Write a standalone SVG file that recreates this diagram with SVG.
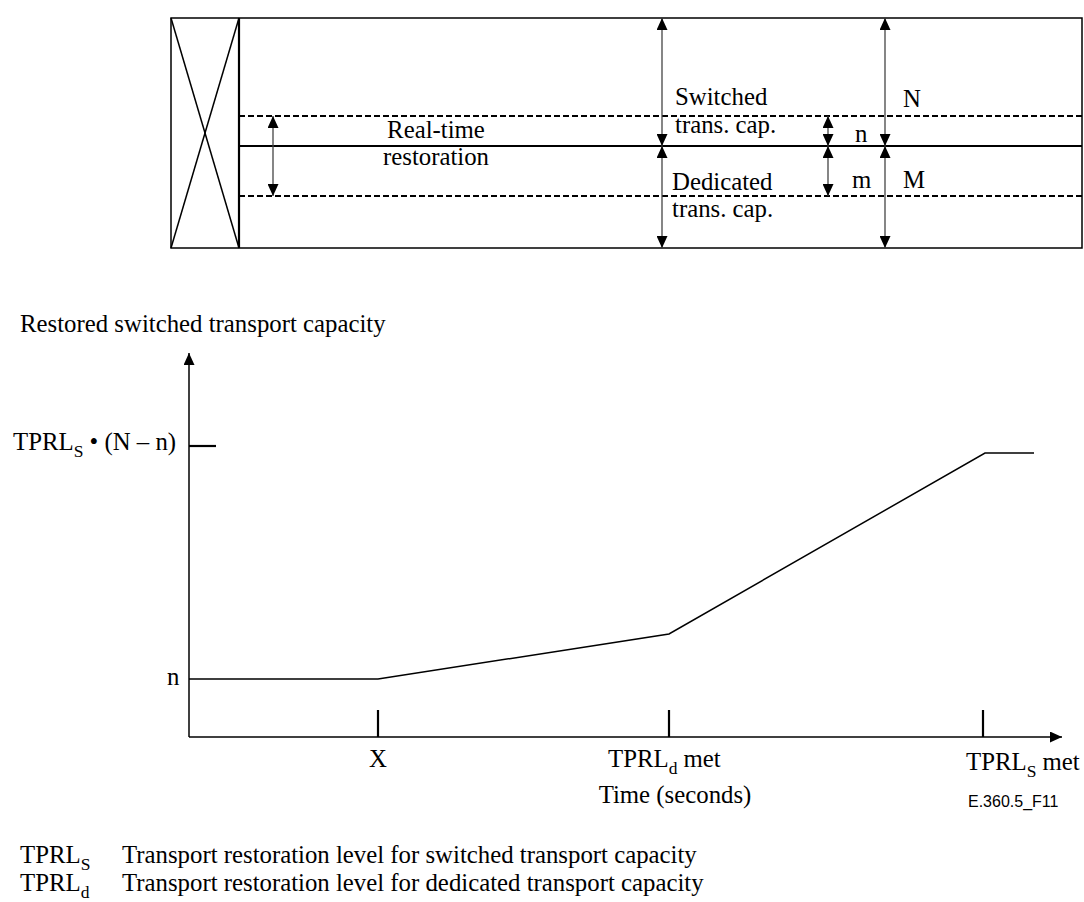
<svg xmlns="http://www.w3.org/2000/svg" width="1084" height="902" viewBox="0 0 1084 902" font-family="'Liberation Serif','Times New Roman',serif">
<defs>
<marker id="ah" viewBox="0 0 12 11" refX="12" refY="5.5" markerWidth="12" markerHeight="11" markerUnits="userSpaceOnUse" orient="auto-start-reverse">
<path d="M0,0 L12,5.5 L0,11 z" fill="#000"/>
</marker>
</defs>
<style>
text{font-family:"Liberation Serif","Times New Roman",serif;font-size:24.8px;fill:#000}
text.sans{font-family:"Liberation Sans",Arial,sans-serif;font-size:16px}
.sub{font-size:17.5px}
.thin{stroke:#000;stroke-width:1.5;fill:none}
.thick{stroke:#000;stroke-width:2.2;fill:none}
.dash{stroke:#000;stroke-width:2;stroke-dasharray:6 3;fill:none}
.dim{stroke:#444;stroke-width:1.3;fill:none;marker-start:url(#ah);marker-end:url(#ah)}
.one{stroke:#000;stroke-width:1.5;fill:none;marker-end:url(#ah)}
</style>
<rect width="1084" height="902" fill="#fff"/>

<g id="capacity-box">
<rect x="171" y="18" width="911" height="230" class="thin"/>
<line x1="171" y1="18" x2="239" y2="248" class="thin" stroke-width="1.2"/>
<line x1="239" y1="18" x2="171" y2="248" class="thin" stroke-width="1.2"/>
<line x1="239" y1="18" x2="239" y2="248" class="thick"/>
<line x1="239" y1="116" x2="1082" y2="116" class="dash"/>
<line x1="239" y1="196" x2="1082" y2="196" class="dash"/>
<line x1="239" y1="146" x2="1082" y2="146" class="thick"/>
</g>

<g id="connectors">
<line x1="273" y1="116" x2="273" y2="196" class="dim"/>
<line x1="662" y1="18" x2="662" y2="146" class="dim"/>
<line x1="662" y1="146" x2="662" y2="248" class="dim"/>
<line x1="885" y1="18" x2="885" y2="146" class="dim"/>
<line x1="885" y1="146" x2="885" y2="248" class="dim"/>
<line x1="828" y1="116" x2="828" y2="146" class="dim"/>
<line x1="828" y1="146" x2="828" y2="196" class="dim"/>
</g>

<g id="box-labels">
<text x="436" y="138" text-anchor="middle">Real-time</text>
<text x="436" y="165" text-anchor="middle">restoration</text>
<text x="675" y="105">Switched</text>
<text x="675" y="133">trans. cap.</text>
<text x="672" y="190">Dedicated</text>
<text x="672" y="217">trans. cap.</text>
<text x="903" y="107">N</text>
<text x="855" y="142">n</text>
<text x="852" y="188">m</text>
<text x="903" y="188">M</text>
</g>

<g id="graph">
<text x="20" y="332">Restored switched transport capacity</text>
<line x1="189" y1="737" x2="189" y2="353" class="one"/>
<line x1="189" y1="737" x2="1062" y2="737" class="one"/>
<line x1="189" y1="446" x2="216" y2="446" class="thick"/>
<line x1="378" y1="710" x2="378" y2="737" class="thick"/>
<line x1="669" y1="710" x2="669" y2="737" class="thick"/>
<line x1="983" y1="710" x2="983" y2="737" class="thick"/>
<polyline points="189,679 378,679 669,634 985,453 1034,453" class="thin"/>
<text x="13" y="450">TPRL<tspan class="sub" dy="7">S</tspan><tspan dy="-7"> • (N – n)</tspan></text>
<text x="167" y="685">n</text>
<text x="378" y="767" text-anchor="middle">X</text>
<text x="608" y="767">TPRL<tspan class="sub" dy="7">d</tspan><tspan dy="-7"> met</tspan></text>
<text x="966" y="770">TPRL<tspan class="sub" dy="7">S</tspan><tspan dy="-7"> met</tspan></text>
<text x="675" y="803" text-anchor="middle">Time (seconds)</text>
<text x="968" y="807" class="sans">E.360.5_F11</text>
</g>

<g id="legend">
<text x="20" y="863">TPRL<tspan class="sub" dy="7">S</tspan></text>
<text x="122" y="863">Transport restoration level for switched transport capacity</text>
<text x="20" y="891">TPRL<tspan class="sub" dy="7">d</tspan></text>
<text x="122" y="891">Transport restoration level for dedicated transport capacity</text>
</g>
</svg>
